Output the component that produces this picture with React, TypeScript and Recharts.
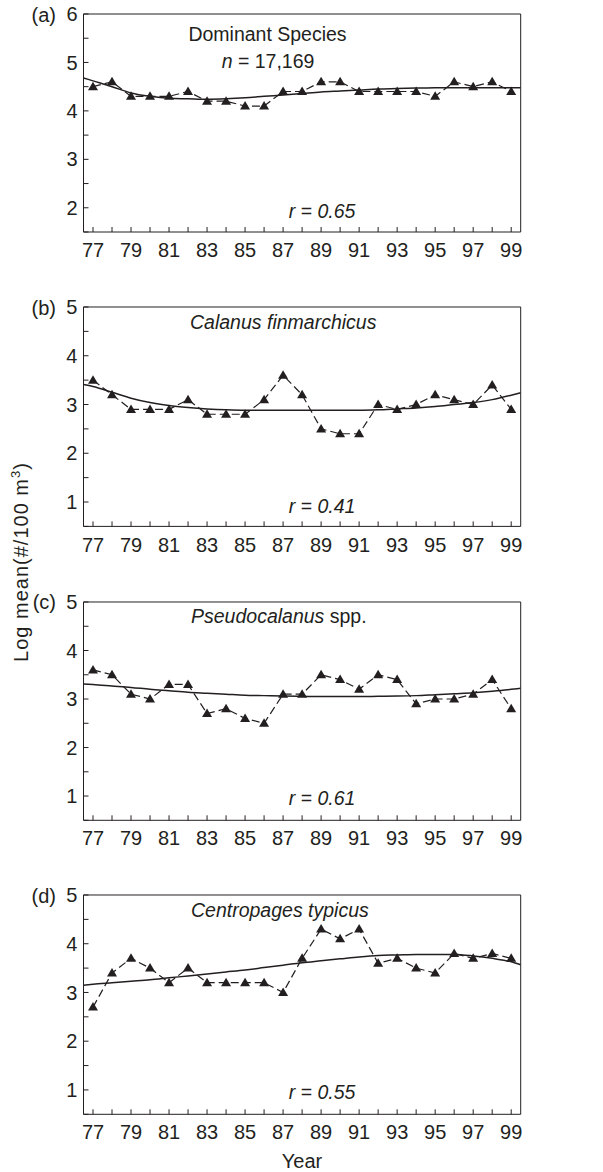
import React from 'react';
import { LineChart, Line, XAxis, YAxis, ReferenceLine } from 'recharts';

const INK = '#231f20';
const FONT = '"Liberation Sans", Arial, sans-serif';

const years = [77, 78, 79, 80, 81, 82, 83, 84, 85, 86, 87, 88, 89, 90, 91, 92, 93, 94, 95, 96, 97, 98, 99];
// fitted curve spans the whole frame, so it has the two edge points too
const fitYears = [76.5, 77, 78, 79, 80, 81, 82, 83, 84, 85, 86, 87, 88, 89, 90, 91, 92, 93, 94, 95, 96, 97, 98, 99, 99.5];

const dominantObs = [4.5, 4.6, 4.3, 4.3, 4.3, 4.4, 4.2, 4.2, 4.1, 4.1, 4.4, 4.4, 4.6, 4.6, 4.4, 4.4, 4.4, 4.4, 4.3, 4.6, 4.5, 4.6, 4.4];
const dominantFit = [4.68, 4.62, 4.5, 4.37, 4.3, 4.26, 4.25, 4.24, 4.25, 4.27, 4.3, 4.33, 4.36, 4.39, 4.41, 4.43, 4.45, 4.46, 4.47, 4.48, 4.48, 4.48, 4.48, 4.48, 4.48];

const calanusObs = [3.5, 3.2, 2.9, 2.9, 2.9, 3.1, 2.8, 2.8, 2.8, 3.1, 3.6, 3.2, 2.5, 2.4, 2.4, 3.0, 2.9, 3.0, 3.2, 3.1, 3.0, 3.4, 2.9];
const calanusFit = [3.41, 3.37, 3.25, 3.13, 3.04, 2.98, 2.94, 2.91, 2.89, 2.88, 2.88, 2.88, 2.88, 2.88, 2.88, 2.88, 2.89, 2.91, 2.93, 2.96, 3.0, 3.04, 3.1, 3.19, 3.24];

const pseudoObs = [3.6, 3.5, 3.1, 3.0, 3.3, 3.3, 2.7, 2.8, 2.6, 2.5, 3.1, 3.1, 3.5, 3.4, 3.2, 3.5, 3.4, 2.9, 3.0, 3.0, 3.1, 3.4, 2.8];
const pseudoFit = [3.31, 3.3, 3.27, 3.24, 3.2, 3.17, 3.14, 3.12, 3.1, 3.08, 3.07, 3.06, 3.055, 3.05, 3.05, 3.05, 3.055, 3.06, 3.07, 3.09, 3.11, 3.13, 3.16, 3.2, 3.22];

const centroObs = [2.7, 3.4, 3.7, 3.5, 3.2, 3.5, 3.2, 3.2, 3.2, 3.2, 3.0, 3.7, 4.3, 4.1, 4.3, 3.6, 3.7, 3.5, 3.4, 3.8, 3.7, 3.8, 3.7];
const centroFit = [3.15, 3.17, 3.2, 3.23, 3.26, 3.3, 3.34, 3.38, 3.42, 3.46, 3.51, 3.56, 3.61, 3.65, 3.69, 3.73, 3.76, 3.77, 3.78, 3.78, 3.78, 3.75, 3.7, 3.63, 3.57];

const yTicksA = [1.5, 2, 2.5, 3, 3.5, 4, 4.5, 5, 5.5, 6];
const yTicksB = [0.5, 1, 1.5, 2, 2.5, 3, 3.5, 4, 4.5, 5];

const Tri = (p: any) => {
  const { cx, cy, index, value } = p;
  if (cx == null || cy == null || value == null) return <g key={`t-${index}`} />;
  return (
    <path
      key={`t-${index}`}
      d={`M${cx},${cy - 5}L${cx + 5},${cy + 3.5}L${cx - 5},${cy + 3.5}Z`}
      fill={INK}
    />
  );
};

interface PanelProps {
  top: number;
  plotH: number;
  lo: number;
  hi: number;
  yTicks: number[];
  obs: number[];
  fit: number[];
}

const Panel = ({ top, plotH, lo, hi, yTicks, obs, fit }: PanelProps) => {
  const rows = fitYears.map((year, i) => {
    const k = years.indexOf(year);
    return { year, fit: fit[i], obs: k >= 0 ? obs[k] : null };
  });
  const tickStyle = { fill: INK, fontSize: 20, fontFamily: FONT };
  return (
    <div style={{ position: 'absolute', left: 0, top }}>
      <LineChart width={603} height={14 + plotH + 50} data={rows} margin={{ top: 14, right: 82.3, bottom: 0, left: 0 }}>
        <XAxis
          dataKey="year"
          type="number"
          domain={[76.5, 99.5]}
          ticks={years}
          allowDataOverflow
          interval={0}
          height={50}
          tickSize={-5}
          tickMargin={16}
          tick={tickStyle}
          stroke={INK}
          tickFormatter={(v: number) => (v % 2 === 1 ? String(v) : '')}
        />
        <YAxis
          type="number"
          domain={[lo, hi]}
          ticks={yTicks}
          allowDataOverflow
          interval={0}
          width={83.5}
          tickSize={-5}
          tickMargin={11}
          tick={tickStyle}
          stroke={INK}
          tickFormatter={(v: number) => (Number.isInteger(v) ? String(v) : '')}
        />
        <ReferenceLine y={hi} stroke={INK} />
        <ReferenceLine x={99.5} stroke={INK} />
        <Line
          dataKey="fit"
          type="monotone"
          stroke={INK}
          strokeWidth={1.5}
          dot={false}
          isAnimationActive={false}
        />
        <Line
          dataKey="obs"
          type="linear"
          stroke={INK}
          strokeWidth={1.2}
          strokeDasharray="8 4"
          dot={Tri}
          activeDot={false}
          isAnimationActive={false}
        />
      </LineChart>
    </div>
  );
};

const txt = (x: number, y: number, content: React.ReactNode, align: 'left' | 'center' | 'right' = 'center', size = 19) => {
  const tx = align === 'center' ? '-50%' : align === 'right' ? '-100%' : '0';
  return (
    <div
      style={{
        position: 'absolute',
        left: x,
        top: y,
        transform: `translate(${tx}, -50%)`,
        fontFamily: FONT,
        fontSize: size,
        lineHeight: 1,
        color: INK,
        whiteSpace: 'nowrap',
      }}
    >
      {content}
    </div>
  );
};

export default function App() {
  return (
    <div style={{ position: 'absolute', left: 0, top: 0, width: 603, height: 1172, background: '#fff' }}>
      <Panel top={0} plotH={218} lo={1.5} hi={6} yTicks={yTicksA} obs={dominantObs} fit={dominantFit} />
      <Panel top={293.3} plotH={219.4} lo={0.5} hi={5} yTicks={yTicksB} obs={calanusObs} fit={calanusFit} />
      <Panel top={587.7} plotH={218.3} lo={0.5} hi={5} yTicks={yTicksB} obs={pseudoObs} fit={pseudoFit} />
      <Panel top={881} plotH={219.3} lo={0.5} hi={5} yTicks={yTicksB} obs={centroObs} fit={centroFit} />

      {txt(56, 15, '(a)', 'right', 20)}
      {txt(56, 308, '(b)', 'right', 20)}
      {txt(56, 602, '(c)', 'right', 20)}
      {txt(56, 896, '(d)', 'right', 20)}

      {txt(267.5, 35, 'Dominant Species', 'center', 19.5)}
      {txt(268, 62, <><i>n</i> = 17,169</>, 'center', 19.5)}
      {txt(322, 212, <i>r = 0.65</i>, 'center', 19.5)}

      {txt(190, 323, <i>Calanus finmarchicus</i>, 'left', 19.5)}
      {txt(322, 507, <i>r = 0.41</i>, 'center', 19.5)}

      {txt(191, 617, <><i>Pseudocalanus</i> spp.</>, 'left', 19.5)}
      {txt(322, 799, <i>r = 0.61</i>, 'center', 19.5)}

      {txt(191, 911, <i>Centropages typicus</i>, 'left', 19.5)}
      {txt(322, 1093, <i>r = 0.55</i>, 'center', 19.5)}

      {txt(302, 1161, 'Year', 'center', 20)}

      <div
        style={{
          position: 'absolute',
          left: 21,
          top: 562,
          transform: 'translate(-50%, -50%) rotate(-90deg)',
          fontFamily: FONT,
          fontSize: 20,
          letterSpacing: 1,
          lineHeight: 1,
          color: INK,
          whiteSpace: 'nowrap',
        }}
      >
        Log mean(#/100 m<sup style={{ fontSize: 13, verticalAlign: 'super', lineHeight: 0 }}>3</sup>)
      </div>
    </div>
  );
}
